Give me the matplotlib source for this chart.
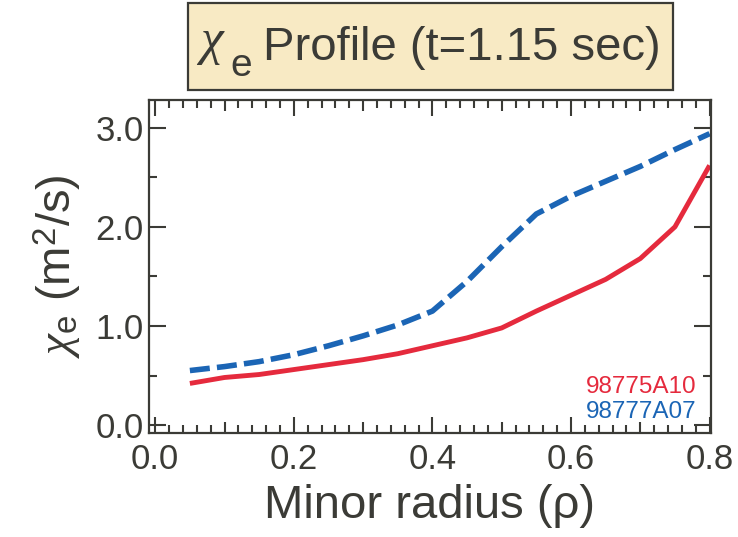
import numpy as np
import matplotlib
matplotlib.use("Agg")
import matplotlib.pyplot as plt
from matplotlib.patches import Rectangle
from matplotlib.ticker import MultipleLocator, FixedLocator, FixedFormatter

plt.rcParams['font.family'] = ['Liberation Sans', 'DejaVu Sans']
plt.rcParams['mathtext.fontset'] = 'custom'
plt.rcParams['mathtext.rm'] = 'Liberation Sans'
plt.rcParams['mathtext.it'] = 'Liberation Serif:italic'

# minor radius grid
rho = [0.05, 0.10, 0.15, 0.20, 0.25, 0.30, 0.35, 0.40,
       0.45, 0.50, 0.55, 0.60, 0.65, 0.70, 0.75, 0.80]
# chi_e for shot 98775A10 (red, solid)
chi_a10 = [0.42, 0.48, 0.51, 0.56, 0.61, 0.66, 0.72, 0.80,
           0.88, 0.98, 1.15, 1.31, 1.47, 1.68, 2.00, 2.62]
# chi_e for shot 98777A07 (blue, dashed)
chi_a07 = [0.55, 0.59, 0.64, 0.71, 0.80, 0.90, 1.01, 1.15,
           1.45, 1.80, 2.13, 2.31, 2.46, 2.61, 2.78, 2.94]

names = ["98775A10", "98777A07"]
ytick_vals = [0.0, 1.0, 2.0, 3.0]
xtick_vals = [0.0, 0.2, 0.4, 0.6, 0.8]

ink = '#3b3b36'
red = '#e52a3d'
blue = '#1b65b5'

fig = plt.figure(figsize=(7.38, 5.37), dpi=100)
ax = fig.add_axes([0.2019, 0.1937, 0.9634 - 0.2019, 0.8138 - 0.1937])

ax.plot(rho, chi_a10, color=red, lw=3.5, solid_capstyle='butt')
ax.plot(rho, chi_a07, color=blue, lw=4.0, linestyle=(0, (3.6, 1.3)))

ax.set_xlim(-0.009, 0.802)
ax.set_ylim(-0.08, 3.28)

# y ticks: major at 1.0, minor at 0.5
ax.yaxis.set_major_locator(FixedLocator(ytick_vals))
ax.yaxis.set_major_formatter(FixedFormatter([f"{v:.1f}" for v in ytick_vals]))
ax.yaxis.set_minor_locator(MultipleLocator(0.5))

# x ticks: major every 0.1 (labels only at 0.2), minor every 0.02
xmaj = np.round(np.arange(0, 0.81, 0.1), 2)
ax.xaxis.set_major_locator(FixedLocator(xmaj))
ax.xaxis.set_major_formatter(FixedFormatter(
    [f"{v:.1f}" if v in xtick_vals else "" for v in xmaj]))
ax.xaxis.set_minor_locator(MultipleLocator(0.02))

ax.tick_params(axis='both', which='both', direction='in', top=True, right=True,
               color=ink, width=1.5, labelcolor=ink, labelsize=25)
ax.tick_params(axis='y', which='major', length=12, pad=4)
ax.tick_params(axis='y', which='minor', length=6)
ax.tick_params(axis='x', which='major', length=8, pad=7)
ax.tick_params(axis='x', which='minor', length=5.5)

# longer ticks at the labelled x positions
for tk, v in zip(ax.xaxis.get_major_ticks(len(xmaj)), xmaj):
    if v in xtick_vals:
        tk.tick1line.set_markersize(11.5)
        tk.tick2line.set_markersize(11.5)

for s in ax.spines.values():
    s.set_color(ink)
    s.set_linewidth(1.6)

ax.set_xlabel("Minor radius (ρ)", fontsize=34, color=ink, labelpad=6)
ax.set_ylabel(r"$\chi_{\mathrm{e}}$ (m$^2$/s)", fontsize=34, color=ink, labelpad=8)

ax.text(0.975, 0.138, names[0], transform=ax.transAxes, ha='right', va='center',
        color=red, fontsize=17.5)
ax.text(0.975, 0.063, names[1], transform=ax.transAxes, ha='right', va='center',
        color=blue, fontsize=17.5)

# title box with chi_e, subscript dropped well below the baseline
fig.add_artist(Rectangle((0.2547, 0.8324), 0.6572, 0.162, transform=fig.transFigure,
                         facecolor='#f8eac4', edgecolor=ink, linewidth=1.6))
fig.text(0.266, 0.900, r"$\chi$", ha='left', va='baseline', fontsize=37, color=ink)
fig.text(0.3125, 0.858, "e", ha='left', va='baseline', fontsize=28, color=ink)
fig.text(0.3564, 0.888, "Profile (t=1.15 sec)", ha='left', va='baseline',
         fontsize=34, color=ink)

fig.savefig("out.png", dpi=100)
